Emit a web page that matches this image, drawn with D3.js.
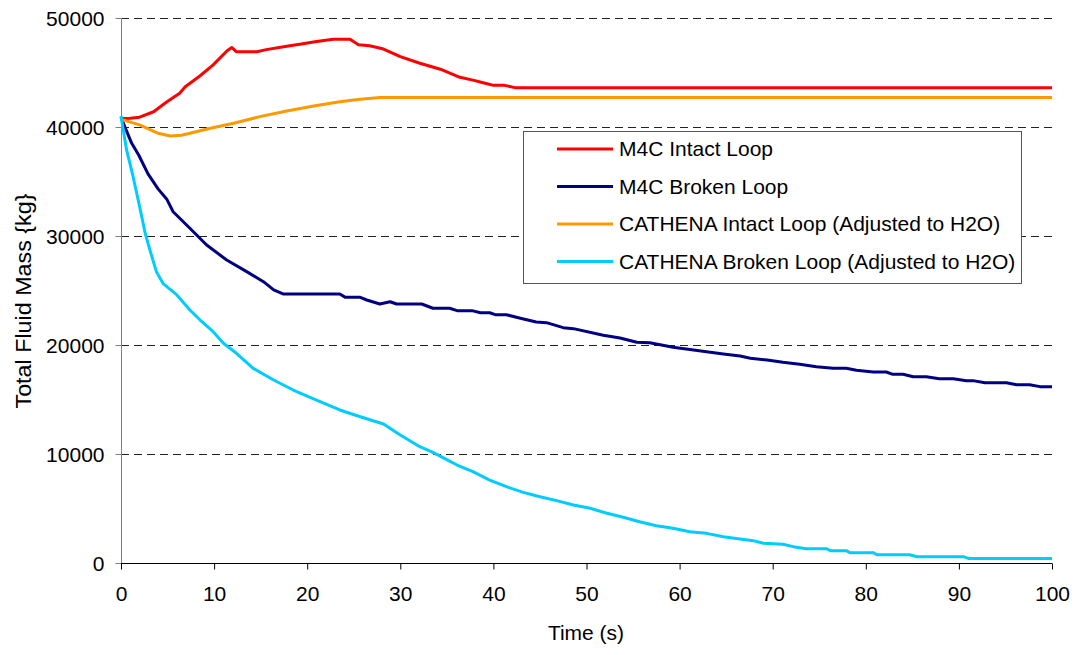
<!DOCTYPE html>
<html>
<head>
<meta charset="utf-8">
<script src="https://cdn.jsdelivr.net/npm/d3@7"></script>
<style>
  body { margin: 0; background: #fff; }
  text { font-family: "Liberation Sans", Arial, sans-serif; fill: #000; }
</style>
</head>
<body>
<div id="chart"></div>
<script>
// time (s), mass (kg) pairs
var m4cIntact = [[0,40750],[1,40800],[2,40900],[3.5,41400],[4.9,42300],[6.3,43100],[6.9,43700],[8.5,44700],[9.9,45700],[11.4,47000],[11.9,47300],[12.4,46900],[14.6,46900],[15.6,47100],[17.8,47400],[19.2,47600],[21,47850],[22.8,48050],[24.6,48050],[25.5,47550],[26.7,47450],[28.2,47150],[30,46450],[32.1,45850],[34.3,45300],[36.4,44560],[37.8,44300],[38.9,44060],[40,43820],[41.2,43820],[42.3,43610],[100,43610]];

var m4cBroken = [[0,40900],[0.4,40030],[1.15,38500],[1.9,37430],[2.9,35700],[4,34300],[4.9,33400],[5.6,32230],[7.4,30710],[9.2,29170],[11.35,27800],[13.5,26730],[15.3,25810],[16.4,25050],[17.4,24680],[23.5,24680],[24.1,24370],[25.7,24370],[26.4,24130],[27.8,23760],[28.9,23970],[29.6,23760],[32.3,23760],[33.5,23370],[35.3,23370],[36.1,23150],[37.7,23150],[38.6,22960],[39.6,22960],[40.2,22780],[41.4,22780],[42.9,22450],[44.6,22110],[45.7,22050],[47.5,21590],[48.6,21500],[51.8,20890],[53.6,20640],[55.4,20250],[56.8,20210],[59.3,19790],[61.5,19540],[64.7,19170],[66.5,18990],[67.6,18780],[69.4,18620],[71.1,18410],[72.9,18230],[74.7,18010],[76.5,17860],[77.9,17860],[79,17680],[80.8,17520],[82.2,17520],[82.9,17310],[84,17310],[85.1,17090],[86.5,17090],[87.9,16910],[89.4,16910],[90.8,16730],[91.5,16730],[92.8,16540],[95.1,16540],[96.2,16360],[97.6,16360],[98.7,16180],[100,16180]];

var cathIntact = [[0,40700],[2,40200],[4,39420],[5.3,39170],[6.5,39250],[7.4,39420],[9.6,39880],[12.1,40340],[14.9,40950],[17.8,41470],[20.7,41930],[23.5,42320],[25.7,42540],[27.8,42700],[100,42700]];

var cathBroken = [[0,41000],[0.6,37900],[1.3,35440],[2,32690],[2.6,30250],[3.1,28720],[3.8,26730],[4.5,25660],[6,24590],[7.4,23210],[8.5,22290],[9.9,21220],[11,20160],[12.4,19240],[14.2,17860],[16.4,16790],[18.5,15870],[21,14950],[23.5,14040],[25.7,13420],[28.2,12750],[30,11740],[32.1,10670],[33.5,10150],[35.3,9350],[36.1,8990],[37.8,8380],[39.6,7610],[41.4,7000],[43.2,6480],[45,6080],[46.8,5720],[48.6,5320],[50.4,5020],[52.2,4560],[53.95,4190],[55.7,3790],[57.5,3420],[59.3,3180],[61.1,2870],[62.9,2720],[64.7,2410],[66.5,2200],[67.9,2050],[69,1810],[71.1,1720],[72.2,1500],[73.6,1310],[75.8,1310],[76.2,1130],[77.9,1130],[78.3,950],[80.8,950],[81.2,760],[84.7,760],[85.5,580],[90.5,580],[91,420],[100,420]];

var seriesNames = ["M4C Intact Loop", "M4C Broken Loop", "CATHENA Intact Loop (Adjusted to H2O)", "CATHENA Broken Loop (Adjusted to H2O)"];
var seriesData = [m4cIntact, m4cBroken, cathIntact, cathBroken];
var seriesColors = ["#ff0000", "#000080", "#ff9900", "#00ccff"];
var xTicks = [0, 10, 20, 30, 40, 50, 60, 70, 80, 90, 100];
var yTicks = [0, 10000, 20000, 30000, 40000, 50000];

var W = 1076, H = 655,
    plotL = 121, plotR = 1052, plotT = 18, plotB = 563,
    sx = 1.05; // slight horizontal stretch of the text in the original

var x = d3.scaleLinear().domain([0, 100]).range([plotL, plotR]);
var y = d3.scaleLinear().domain([0, 50000]).range([plotB, plotT]);

var svg = d3.select("#chart").append("svg")
    .attr("width", W)
    .attr("height", H);

svg.append("rect").attr("width", W).attr("height", H).attr("fill", "#fff");

// dashed grid
svg.append("g")
    .selectAll("line")
    .data(yTicks.filter(function(d) { return d > 0; }))
    .join("line")
    .attr("x1", plotL).attr("x2", plotR)
    .attr("y1", function(d) { return Math.round(y(d)) + 0.5; })
    .attr("y2", function(d) { return Math.round(y(d)) + 0.5; })
    .attr("stroke", "#222")
    .attr("stroke-dasharray", "8,5");

function stretched(sel, px, py, anchor) {
    sel.attr("transform", "translate(" + px + "," + py + ") scale(" + sx + ",1)")
        .attr("text-anchor", anchor);
}

// y axis
var yAxis = d3.axisLeft(y).tickValues(yTicks).tickSize(6).tickFormat(d3.format("d"));
var gy = svg.append("g")
    .attr("transform", "translate(" + (plotL + 0.5) + ",0)")
    .call(yAxis);
gy.select(".domain").attr("stroke", "#808080").attr("d", "M0," + plotT + "V" + plotB);
gy.selectAll(".tick line").attr("stroke", "#808080");
gy.selectAll(".tick text").each(function() {
    d3.select(this).attr("x", null).attr("dy", "0.35em").attr("font-size", 20)
        .call(stretched, -17, 0, "end");
});

// x axis
var xAxis = d3.axisBottom(x).tickValues(xTicks).tickSize(6);
var gx = svg.append("g")
    .attr("transform", "translate(0," + (plotB + 0.5) + ")")
    .call(xAxis);
gx.select(".domain").attr("stroke", "#000").attr("d", "M" + plotL + ",0H" + plotR);
gx.selectAll(".tick line").attr("stroke", "#000");
gx.selectAll(".tick text").each(function() {
    d3.select(this).attr("y", null).attr("dy", null).attr("font-size", 20)
        .call(stretched, 0, 37, "middle");
});

// axis titles
svg.append("text")
    .attr("font-size", 20)
    .text("Time (s)")
    .call(stretched, 586, 640, "middle");

svg.append("text")
    .attr("font-size", 22)
    .attr("text-anchor", "middle")
    .attr("transform", "translate(31,301) rotate(-90) scale(1.06,1)")
    .text("Total Fluid Mass {kg}");

// series
var line = d3.line()
    .x(function(d) { return x(d[0]); })
    .y(function(d) { return y(d[1]); });

svg.append("g")
    .selectAll("path")
    .data(seriesData)
    .join("path")
    .attr("d", line)
    .attr("fill", "none")
    .attr("stroke", function(d, i) { return seriesColors[i]; })
    .attr("stroke-width", 3)
    .attr("stroke-linejoin", "round");

// legend
var lg = svg.append("g");
lg.append("rect")
    .attr("x", 523.5).attr("y", 131.5)
    .attr("width", 498).attr("height", 152)
    .attr("fill", "#fff")
    .attr("stroke", "#555");

var rows = lg.selectAll("g.row")
    .data(seriesNames)
    .join("g")
    .attr("class", "row")
    .attr("transform", function(d, i) { return "translate(0," + (149 + i * 37.5) + ")"; });

rows.append("line")
    .attr("x1", 557).attr("x2", 613)
    .attr("stroke", function(d, i) { return seriesColors[i]; })
    .attr("stroke-width", 3);

rows.append("text")
    .attr("font-size", 20)
    .attr("dy", "0.35em")
    .text(function(d) { return d; })
    .call(stretched, 619, 0, "start");
</script>
</body>
</html>
